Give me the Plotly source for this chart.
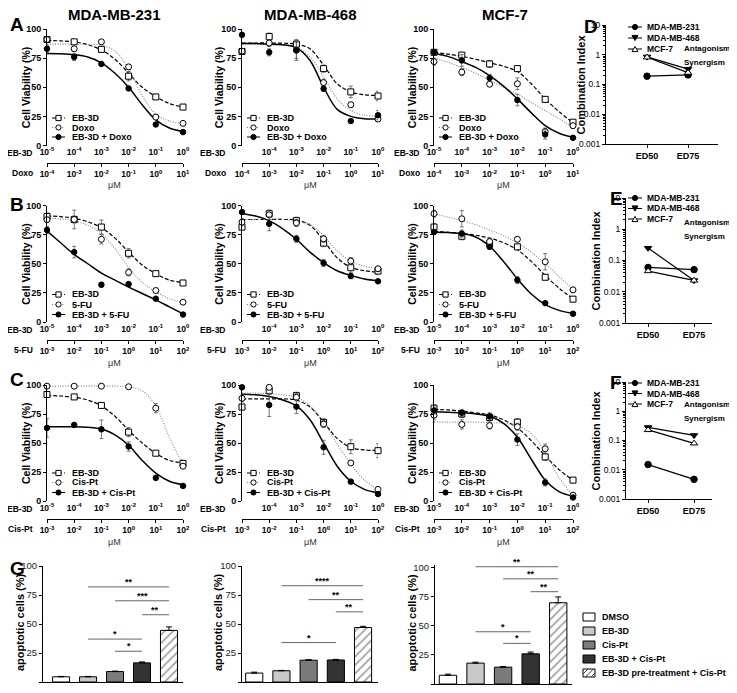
import math
import plotly.graph_objects as go

# the page body adds an 8px margin all round; keep the figure inside the 737x693 window
OFF = 8
W, H = 737 - 2 * OFF, 693 - 2 * OFF
FONT = "Liberation Sans, Arial, sans-serif"

# ---------------- dose axes ----------------
eb3d_dose = [1e-5, 1e-4, 1e-3, 1e-2, 1e-1, 1e0]
eb3d_text = ["10<sup>-5</sup>", "10<sup>-4</sup>", "10<sup>-3</sup>", "10<sup>-2</sup>", "10<sup>-1</sup>", "10<sup>0</sup>"]
fit_dose = [1e-5, 3.16e-5, 1e-4, 3.16e-4, 1e-3, 3.16e-3, 1e-2, 3.16e-2, 1e-1, 3.16e-1, 1e0]
doxo_dose = [1e-4, 1e-3, 1e-2, 1e-1, 1e0, 1e1]
doxo_text = ["10<sup>-4</sup>", "10<sup>-3</sup>", "10<sup>-2</sup>", "10<sup>-1</sup>", "10<sup>0</sup>", "10<sup>1</sup>"]
fu_dose = [1e-3, 1e-2, 1e-1, 1e0, 1e1, 1e2]
fu_text = ["10<sup>-3</sup>", "10<sup>-2</sup>", "10<sup>-1</sup>", "10<sup>0</sup>", "10<sup>1</sup>", "10<sup>2</sup>"]
cis_dose = fu_dose
cis_text = fu_text

cell_lines = ["MDA-MB-231", "MDA-MB-468", "MCF-7"]

# ---------------- A: Doxo ----------------
A1_eb = [91, 89, 82.5, 59.5, 41.7, 33]
A1_eb_err = [2, 1, 2, 4, 2, 2]
A1_eb_fit = [90, 89.8, 89, 86.5, 82, 74, 62, 50, 42, 36, 33]
A1_dr = [91, 83, 89, 67.5, 24.4, 19]
A1_dr_err = [1, 2, 2, 2, 1, 1]
A1_dr_fit = [87, 87, 87, 86.8, 86, 81, 66, 43, 27, 21, 19]
A1_co = [83, 76, 70, 49, 18, 11.5]
A1_co_err = [3, 3, 1, 1, 1, 1]
A1_co_fit = [79, 78.8, 78, 76, 71, 62, 50, 35, 22, 15, 12]

A2_eb = [80.7, 93.5, 87, 66, 46, 42.5]
A2_eb_err = [2, 3, 3, 3, 5, 4]
A2_eb_fit = [88, 88, 88, 87.8, 87, 83, 69, 53, 46, 43.5, 43]
A2_dr = [81, 88, 82, 54, 35, 22.7]
A2_dr_err = [2, 3, 9, 3, 2, 2]
A2_dr_fit = [87, 87, 86.5, 86, 84, 76, 59, 40, 30, 26, 25]
A2_co = [95, 80, 81.6, 48.7, 21, 26]
A2_co_err = [1, 3, 7, 2, 1, 4]
A2_co_fit = [87.5, 87.5, 87, 86.5, 84, 73, 50, 31, 25, 23, 23]

A3_eb = [80, 77.6, 70, 66, 39.6, 20]
A3_eb_err = [2, 2, 3, 2, 2, 2]
A3_eb_fit = [80, 78.5, 76.5, 74, 71, 68, 63.5, 53, 40, 29, 19.5]
A3_dr = [72, 63, 52.6, 53, 12, 17]
A3_dr_err = [3, 3, 2, 5, 3, 2]
A3_dr_fit = [75, 71.5, 67, 62, 56, 50, 44, 37, 30, 23, 15.5]
A3_co = [80, 73, 58, 39, 9.5, 6.6]
A3_co_err = [2, 5, 3, 5, 4, 1]
A3_co_fit = [79, 76.5, 72, 67, 60, 51, 40, 28, 17, 10.5, 7]

# ---------------- B: 5-FU ----------------
B1_eb = [90.6, 88, 81.5, 59, 41.5, 33.5]
B1_eb_err = [3, 8, 6, 4, 2, 2]
B1_eb_fit = [91, 90.5, 89, 86, 81, 72, 60, 49, 41.5, 36, 34]
B1_dr = [87.8, 88, 71, 42.6, 27, 17]
B1_dr_err = [2, 3, 4, 3, 2, 1]
B1_dr_fit = [89, 88.5, 87, 83, 76, 63, 47, 34, 26, 20, 17]
B1_co = [79, 60, 32, 32.5, 20, 6.4]
B1_co_err = [3, 5, 2, 2, 1, 1]
B1_co_fit = [78, 68, 58, 50, 42, 36, 30, 24.5, 19, 13, 7]

B2_eb = [81.4, 93, 87, 67.7, 46.6, 43.7]
B2_eb_err = [2, 3, 3, 3, 4, 3]
B2_eb_fit = [88, 88, 88, 88, 87.5, 83, 70, 55, 47, 44, 43]
B2_dr = [85.7, 92, 85, 71.4, 52.3, 45.7]
B2_dr_err = [3, 4, 3, 3, 3, 2]
B2_dr_fit = [88, 88, 88, 88, 87, 84, 74, 61, 52, 48, 46]
B2_co = [94.3, 84.3, 71.4, 50.6, 39.4, 34.9]
B2_co_err = [2, 6, 3, 3, 2, 1]
B2_co_fit = [93, 91, 87, 80, 71, 60, 51, 44, 40, 37, 35.5]

B3_eb = [81.5, 73.6, 67.3, 64.5, 38.4, 19.6]
B3_eb_err = [3, 3, 3, 2, 2, 2]
B3_eb_fit = [78, 77, 76, 74.5, 72, 68, 62, 52, 40, 29, 20]
B3_dr = [93, 88.6, 69, 71, 51.7, 27.6]
B3_dr_err = [3, 7, 3, 2, 7, 2]
B3_dr_fit = [93, 90, 87, 83.5, 79, 74, 68, 60, 50, 39, 28]
B3_co = [77.3, 75.9, 64.5, 36, 16.2, 7.1]
B3_co_err = [2, 3, 2, 3, 1, 1]
B3_co_fit = [77, 76.8, 76, 73, 65, 52, 37, 24, 15, 10, 7.5]

# ---------------- C: Cis-Pt ----------------
C1_eb = [91.8, 89.7, 82.4, 59.4, 41.2, 32.4]
C1_eb_err = [2, 2, 2, 4, 1, 3]
C1_eb_fit = [91, 90.5, 89.5, 87, 82, 73, 61, 50, 41, 35, 33]
C1_dr = [99, 99, 99, 98.5, 80, 30]
C1_dr_err = [1, 1, 1, 1, 4, 2]
C1_dr_fit = [99, 99, 99, 99, 99, 99, 98.5, 95, 82, 55, 31]
C1_co = [63, 65.6, 61.8, 47, 20, 13]
C1_co_err = [8, 1, 8, 4, 2, 1]
C1_co_fit = [64, 64, 64, 63.5, 62, 57, 48, 35, 24, 17, 14]

C2_eb = [81, 95, 90.8, 67.8, 46.8, 43.4]
C2_eb_err = [2, 3, 3, 3, 6, 6]
C2_eb_fit = [88, 88, 88, 88, 87, 81, 68, 54, 46, 44, 43.5]
C2_dr = [88.5, 98, 89.4, 66.4, 32.8, 10]
C2_dr_err = [3, 2, 3, 3, 2, 2]
C2_dr_fit = [93, 93, 92.5, 91.5, 89.5, 82, 68, 49, 32, 18, 10]
C2_co = [98, 82.8, 81.3, 46.3, 16.7, 6]
C2_co_err = [1, 10, 6, 6, 2, 1]
C2_co_fit = [92, 91.5, 90, 87, 82, 70, 50, 30, 17, 10, 7]

C3_eb = [80, 75, 72, 68, 38, 18]
C3_eb_err = [3, 3, 3, 3, 3, 2]
C3_eb_fit = [79, 78.5, 77.5, 76, 74, 70, 63, 52, 39, 27, 18]
C3_dr = [74, 66, 65, 64, 45, 5]
C3_dr_err = [4, 4, 3, 3, 4, 1]
C3_dr_fit = [68, 68, 68, 68, 67.5, 67, 65, 58, 42, 20, 5]
C3_co = [78, 76, 73, 53, 16, 3]
C3_co_err = [3, 3, 3, 5, 3, 1]
C3_co_fit = [77, 76.5, 76, 75, 73, 67, 55, 36, 18, 8, 4]

# ---------------- D-F: combination index ----------------
ci_pos = [0, 1]
ci_labels = ["ED50", "ED75"]
ci_ticks = [0.001, 0.01, 0.1, 1, 10]
ci_ticktext = ["0.001", "0.01", "0.1", "1", "10"]
D_231 = [0.19, 0.21]
D_468 = [0.85, 0.33]
D_mcf = [0.82, 0.25]
E_231 = [0.06, 0.051]
E_468 = [0.25, 0.023]
E_mcf = [0.046, 0.023]
F_231 = [0.015, 0.0047]
F_468 = [0.28, 0.15]
F_mcf = [0.23, 0.08]

# ---------------- G: apoptosis ----------------
bar_groups = ["DMSO", "EB-3D", "Cis-Pt", "EB-3D + Cis-Pt", "EB-3D pre-treatment + Cis-Pt"]
bar_pos = [0, 1, 2, 3, 4]
G1_vals = [4.5, 4.5, 9, 16.5, 44.5]
G1_err = [0.3, 0.3, 0.4, 0.8, 3]
G2_vals = [7.7, 9.7, 18.8, 19, 47]
G2_err = [0.8, 0.3, 0.4, 0.5, 1]
G3_vals = [7.5, 18, 14.5, 26, 70]
G3_err = [1, 0.8, 0.5, 1.5, 5]
G1_pairs = [(1, 4), (2, 4), (3, 4), (1, 3), (2, 3)]
G1_heights = [82, 70, 58, 37, 26.5]
G1_stars = ["**", "***", "**", "*", "*"]
G2_pairs = [(1, 4), (2, 4), (3, 4), (1, 3)]
G2_heights = [83, 71, 60.5, 34]
G2_stars = ["****", "**", "**", "*"]
G3_pairs = [(1, 4), (2, 4), (3, 4), (1, 3), (2, 3)]
G3_heights = [101, 90.6, 79.5, 45, 35]
G3_stars = ["**", "**", "**", "*", "*"]

# ---------------- geometry (reference pixels) ----------------
COLS_X = [(47, 183), (242, 378), (434, 573)]
ROWS_Y = [(29, 145.5), (205.5, 322), (385, 501)]
DRUG_LINE_Y = [163, 340, 519]
UM_Y = [185, 363, 542]
LEG_ROWS = [(118, 127.5, 137), (294.5, 304.5, 314.5), (473, 482.5, 492.5)]
LABEL_RIGHT = [35, 228, 422]
YTITLE_X = [26, 219, 412]
CI_X = [(606, 718), (626, 712), (626, 712)]
CI_Y = [(25, 144), (198, 323), (382, 499)]
CI_XRANGE = [(-1.0, 1.73), (-0.48, 1.39), (-0.48, 1.39)]
CI_LINE_END = [728, 714]
CI_TEXT_X = 682
CI_LEG = [(27, 38, 49), (198, 208.5, 219), (383, 393.5, 404)]
BAR_X = [(43, 183), (242, 378), (435, 572)]
BAR_Y = [(566, 682), (566, 682), (565, 684)]
BAR_XRANGE = [(-0.67, 4.52), (-0.45, 4.55), (-0.47, 4.5)]
BAR_YTOP = [100, 100, 102.5]
BAR_COLORS = ["white", "#c9c9c9", "#7b7b7b", "#333333", "white"]


def px(x):
    return (x - OFF) / W


def py(y):
    return 1 - (y - OFF) / H


def fnt(size=9, bold=True, color="black"):
    return dict(family=FONT, size=size, color=color, weight="bold" if bold else "normal")


fig = go.Figure()
layout = {}
shapes = []
annos = []
axis_count = [0]


def new_axes():
    axis_count[0] += 1
    s = "" if axis_count[0] == 1 else str(axis_count[0])
    return "x" + s, "y" + s, "xaxis" + s, "yaxis" + s


def text(x, y, s, size=9, bold=True, xanchor="left", angle=0, color="black"):
    annos.append(dict(x=px(x), y=py(y), xref="paper", yref="paper", text=s, showarrow=False,
                      xanchor=xanchor, yanchor="middle", textangle=angle, font=fnt(size, bold, color)))


def seg(x0, y0, x1, y1, color="black", width=1, dash="solid"):
    shapes.append(dict(type="line", xref="paper", yref="paper", x0=px(x0), y0=py(y0), x1=px(x1), y1=py(y1),
                       line=dict(color=color, width=width, dash=dash)))


def glyph(xc, yc, sym, filled, r=2.6):
    fill = "black" if filled else "white"
    if sym in ("square", "circle"):
        shapes.append(dict(type="rect" if sym == "square" else "circle", xref="paper", yref="paper",
                           x0=px(xc - r), x1=px(xc + r), y0=py(yc + r), y1=py(yc - r),
                           fillcolor=fill, line=dict(color="black", width=1)))
    else:
        d = 1 if sym == "triangle-down" else -1
        path = "M %f,%f L %f,%f L %f,%f Z" % (px(xc - r - 0.4), py(yc - d * r), px(xc + r + 0.4), py(yc - d * r),
                                              px(xc), py(yc + d * r))
        shapes.append(dict(type="path", xref="paper", yref="paper", path=path,
                           fillcolor=fill, line=dict(color="black", width=1)))


def key(xc, yc, sym, filled, dash="solid", color="black", half=7):
    seg(xc - half, yc, xc + half, yc, color, 1, dash)
    glyph(xc, yc, sym, filled)


STYLES = [
    dict(sym="square", fill="white", dash="4px,2px", color="black", width=1.2, msize=6),
    dict(sym="circle", fill="white", dash="1px,1.6px", color="#808080", width=1.1, msize=6),
    dict(sym="circle", fill="black", dash="solid", color="black", width=1.5, msize=5.5),
]

AX = dict(showgrid=False, zeroline=False, automargin=False)


def curve_panel(row, col, drug, drug_dose, drug_text, series):
    xa, ya, xkey, ykey = new_axes()
    xd, _, xdkey, _ = new_axes()
    x0, x1 = COLS_X[col]
    y0, y1 = ROWS_Y[row]
    first = 0 if col != 1 else 1
    layout[xkey] = dict(domain=[px(x0), px(x1)], anchor=ya, type="log", range=[-5, 0],
                        showline=False, ticks="", tickvals=eb3d_dose[first:], ticktext=eb3d_text[first:],
                        tickfont=fnt(8.5), **AX)
    layout[ykey] = dict(domain=[py(y1), py(y0)], anchor=xa, range=[0, 100], tickvals=[0, 25, 50, 75, 100],
                        ticks="outside", ticklen=3, tickcolor="black", showline=True, linecolor="black",
                        linewidth=1, tickfont=fnt(9), **AX)
    layout[xdkey] = dict(domain=[px(x0), px(x1)], overlaying=xa, anchor="free", position=py(DRUG_LINE_Y[row]),
                         type="log", range=[math.log10(drug_dose[0]), math.log10(drug_dose[-1])],
                         tickvals=drug_dose, ticktext=drug_text, ticks="outside", ticklen=3, tickcolor="black",
                         showline=True, linecolor="black", linewidth=1, tickfont=fnt(8.5), **AX)
    fig.add_trace(go.Scatter(x=[drug_dose[0], drug_dose[-1]], y=[None, None], xaxis=xd, yaxis=ya,
                             mode="markers", showlegend=False, hoverinfo="skip"))
    names = ["EB-3D", drug, "EB-3D + " + drug]
    for (pts, err, fit), st in zip(series, STYLES):
        fig.add_trace(go.Scatter(x=fit_dose, y=fit, xaxis=xa, yaxis=ya, mode="lines",
                                 line=dict(color=st["color"], width=st["width"], dash=st["dash"],
                                           shape="spline", smoothing=1.0),
                                 showlegend=False, hoverinfo="skip"))
    for (pts, err, fit), st in zip(series, STYLES):
        fig.add_trace(go.Scatter(x=eb3d_dose, y=pts, xaxis=xa, yaxis=ya, mode="markers", cliponaxis=False,
                                 marker=dict(symbol=st["sym"], size=st["msize"], color=st["fill"],
                                             line=dict(color="black", width=1)),
                                 error_y=dict(type="data", array=err, color="#555555", thickness=0.8, width=2),
                                 showlegend=False))
    # legend
    for i, st in enumerate(STYLES):
        ly = LEG_ROWS[row][i]
        key(x0 + 11.5, ly, st["sym"], st["fill"] == "black", st["dash"], st["color"], 6.5)
        text(x0 + 23, ly, names[i], 9)
    # axis labels
    text(LABEL_RIGHT[col], y1 + 7.5, "EB-3D", 8.5, xanchor="right")
    text(LABEL_RIGHT[col], DRUG_LINE_Y[row] + 9.5, drug, 8.5, xanchor="right")
    text((x0 + x1) / 2, UM_Y[row], "μM", 9, bold=False, xanchor="center", color="#333333")
    text(YTITLE_X[col], (y0 + y1) / 2, "Cell Viability (%)", 10.5, xanchor="center", angle=-90)


def ci_panel(k, s231, s468, smcf):
    xa, ya, xkey, ykey = new_axes()
    x0, x1 = CI_X[k]
    y0, y1 = CI_Y[k]
    layout[xkey] = dict(domain=[px(x0), px(x1)], anchor=ya, range=list(CI_XRANGE[k]), tickvals=ci_pos,
                        ticktext=ci_labels, ticks="outside", ticklen=3, tickcolor="black", showline=True,
                        linecolor="black", tickfont=fnt(9), **AX)
    layout[ykey] = dict(domain=[py(y1), py(y0)], anchor=xa, type="log", range=[-3, 1], tickvals=ci_ticks,
                        ticktext=ci_ticktext, ticks="outside", ticklen=3, tickcolor="black",
                        minor=dict(ticks="outside", ticklen=2, dtick="D1", tickcolor="black"),
                        showline=True, linecolor="black", tickfont=fnt(8.5, bold=False), **AX)
    specs = [(s231, "circle", "black"), (s468, "triangle-down", "black"), (smcf, "triangle-up", "white")]
    for vals, sym, fill in specs:
        fig.add_trace(go.Scatter(x=ci_pos, y=vals, xaxis=xa, yaxis=ya, mode="lines+markers", cliponaxis=False,
                                 line=dict(color="black", width=1.2),
                                 marker=dict(symbol=sym, size=6.5, color=fill, line=dict(color="black", width=1)),
                                 showlegend=False))
    end = CI_LINE_END[0] if k == 0 else CI_LINE_END[1]
    shapes.append(dict(type="line", xref="paper", yref=ya, x0=px(x0), x1=px(end), y0=0, y1=0,
                       line=dict(color="#666666", width=1, dash="dot")))
    annos.append(dict(x=px(CI_TEXT_X), y=0, xref="paper", yref=ya, text="Antagonism", showarrow=False,
                      xanchor="left", yanchor="bottom", font=fnt(8)))
    annos.append(dict(x=px(CI_TEXT_X), y=0, xref="paper", yref=ya, text="Synergism", showarrow=False,
                      xanchor="left", yanchor="top", yshift=-1, font=fnt(8)))
    for i, (vals, sym, fill) in enumerate(specs):
        ly = CI_LEG[k][i]
        key(635, ly, sym, fill == "black", half=7)
        text(645, ly, cell_lines[i], 8.5)
    text(x0 - 31 if k else x0 - 26, (y0 + y1) / 2, "Combination Index", 11, xanchor="center", angle=-90)


def bar_panel(k, vals, errs, pairs, heights, stars):
    xa, ya, xkey, ykey = new_axes()
    x0, x1 = BAR_X[k]
    y0, y1 = BAR_Y[k]
    layout[xkey] = dict(domain=[px(x0), px(x1)], anchor=ya, range=list(BAR_XRANGE[k]), showticklabels=False,
                        ticks="", showline=True, linecolor="black", **AX)
    layout[ykey] = dict(domain=[py(y1), py(y0)], anchor=xa, range=[0, BAR_YTOP[k]],
                        tickvals=[0, 25, 50, 75, 100], ticks="outside", ticklen=3, tickcolor="black",
                        showline=True, linecolor="black", tickfont=fnt(9.5, bold=False, color="#222222"), **AX)
    fig.add_trace(go.Bar(x=bar_pos, y=vals, xaxis=xa, yaxis=ya, width=0.63, showlegend=False,
                         marker=dict(color=BAR_COLORS, line=dict(color="black", width=1),
                                     pattern=dict(shape=["", "", "", "", "/"], fgcolor="#333333",
                                                  bgcolor="white", size=6, solidity=0.3)),
                         error_y=dict(type="data", array=errs, arrayminus=[0] * len(errs), symmetric=False,
                                      color="black", thickness=1, width=3)))
    for (a, b), h, s in zip(pairs, heights, stars):
        shapes.append(dict(type="line", xref=xa, yref=ya, x0=bar_pos[a], x1=bar_pos[b], y0=h, y1=h,
                           line=dict(color="#666666", width=1)))
        annos.append(dict(x=(bar_pos[a] + bar_pos[b]) / 2, y=h, xref=xa, yref=ya, text=s, showarrow=False,
                          yanchor="bottom", yshift=-2, font=fnt(9)))
    text(BAR_X[k][0] - (23 if k == 0 else 24), (y0 + y1) / 2 - 2, "apoptotic cells (%)", 11,
         xanchor="center", angle=-90)


# ---------------- build ----------------
drug_info = [("Doxo", doxo_dose, doxo_text), ("5-FU", fu_dose, fu_text), ("Cis-Pt", cis_dose, cis_text)]
grid = [
    [[(A1_eb, A1_eb_err, A1_eb_fit), (A1_dr, A1_dr_err, A1_dr_fit), (A1_co, A1_co_err, A1_co_fit)],
     [(A2_eb, A2_eb_err, A2_eb_fit), (A2_dr, A2_dr_err, A2_dr_fit), (A2_co, A2_co_err, A2_co_fit)],
     [(A3_eb, A3_eb_err, A3_eb_fit), (A3_dr, A3_dr_err, A3_dr_fit), (A3_co, A3_co_err, A3_co_fit)]],
    [[(B1_eb, B1_eb_err, B1_eb_fit), (B1_dr, B1_dr_err, B1_dr_fit), (B1_co, B1_co_err, B1_co_fit)],
     [(B2_eb, B2_eb_err, B2_eb_fit), (B2_dr, B2_dr_err, B2_dr_fit), (B2_co, B2_co_err, B2_co_fit)],
     [(B3_eb, B3_eb_err, B3_eb_fit), (B3_dr, B3_dr_err, B3_dr_fit), (B3_co, B3_co_err, B3_co_fit)]],
    [[(C1_eb, C1_eb_err, C1_eb_fit), (C1_dr, C1_dr_err, C1_dr_fit), (C1_co, C1_co_err, C1_co_fit)],
     [(C2_eb, C2_eb_err, C2_eb_fit), (C2_dr, C2_dr_err, C2_dr_fit), (C2_co, C2_co_err, C2_co_fit)],
     [(C3_eb, C3_eb_err, C3_eb_fit), (C3_dr, C3_dr_err, C3_dr_fit), (C3_co, C3_co_err, C3_co_fit)]],
]
for r in range(3):
    for c in range(3):
        curve_panel(r, c, drug_info[r][0], drug_info[r][1], drug_info[r][2], grid[r][c])

ci_panel(0, D_231, D_468, D_mcf)
ci_panel(1, E_231, E_468, E_mcf)
ci_panel(2, F_231, F_468, F_mcf)

bar_panel(0, G1_vals, G1_err, G1_pairs, G1_heights, G1_stars)
bar_panel(1, G2_vals, G2_err, G2_pairs, G2_heights, G2_stars)
bar_panel(2, G3_vals, G3_err, G3_pairs, G3_heights, G3_stars)

# bar legend
for i, name in enumerate(bar_groups):
    ly = 617 + 14 * i
    shapes.append(dict(type="rect", xref="paper", yref="paper", x0=px(583), x1=px(595), y0=py(ly + 4),
                       y1=py(ly - 4), fillcolor=BAR_COLORS[i], line=dict(color="black", width=1)))
    if i == 4:
        hatch = "M %f,%f L %f,%f M %f,%f L %f,%f M %f,%f L %f,%f" % (
            px(583), py(ly + 1), px(588), py(ly - 4),
            px(585.5), py(ly + 4), px(593.5), py(ly - 4),
            px(591), py(ly + 4), px(595), py(ly))
        shapes.append(dict(type="path", xref="paper", yref="paper", path=hatch,
                           line=dict(color="#333333", width=1)))
    text(600, ly, name, 9)

# titles and panel letters
for cx, name in zip([115, 310, 505], cell_lines):
    text(cx, 15, name, 15, xanchor="center")
for letter, lx, ly in [("A", 8, 25), ("B", 8, 204), ("C", 8, 379), ("D", 582, 27),
                       ("E", 608, 199), ("F", 608, 382), ("G", 8, 568)]:
    text(lx, ly, letter, 19)

fig.update_layout(**layout)
fig.update_layout(width=W, height=H, margin=dict(l=0, r=0, t=0, b=0), plot_bgcolor="white",
                  paper_bgcolor="white", showlegend=False, shapes=shapes, annotations=annos,
                  font=dict(family=FONT, size=9, color="black"))

fig.write_html("out.html")
